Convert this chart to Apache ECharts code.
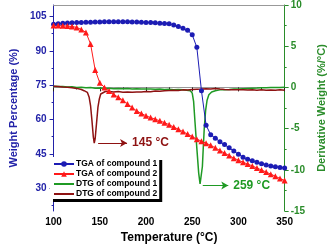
<!DOCTYPE html>
<html>
<head>
<meta charset="utf-8">
<script src="https://cdn.jsdelivr.net/npm/echarts@6/dist/echarts.min.js"></script>
<style>
html,body{margin:0;padding:0;background:#fff;}
#chart{width:335px;height:249px;}
</style>
</head>
<body>
<div id="chart"></div>
<script>
// ---- data ----
const tgaTemps = [100,105,110,115,120,125,130,135,140,145,150,155,160,165,170,175,180,185,190,195,200,205,210,215,220,225,230,235,240,245,250,255,260,265,270,275,280,285,290,295,300,305,310,315,320,325,330,335,340,345,350];
const tga1 = [101.6,101.8,102.0,102.1,102.2,102.3,102.4,102.5,102.5,102.6,102.6,102.7,102.7,102.7,102.7,102.7,102.7,102.6,102.6,102.5,102.4,102.3,102.2,102.0,101.9,101.8,101.3,100.6,99.8,99.0,97.0,91.5,72.5,57.5,53.3,51.8,50.3,49.0,47.6,46.2,44.8,43.5,42.6,42.0,41.3,40.6,40.1,39.7,39.3,39.0,38.8];
const tga2 = [101.0,101.0,100.9,100.8,100.6,100.2,99.3,98.0,93.0,81.6,76.0,74.0,72.4,70.9,69.7,68.4,66.8,65.2,63.7,62.6,61.6,60.8,60.1,59.4,58.6,57.7,56.7,55.7,54.7,53.6,52.5,51.4,50.5,49.6,48.7,47.6,46.4,45.3,44.2,43.1,42.2,41.3,40.5,39.7,38.8,37.9,37.0,36.1,35.2,34.2,33.3];

const dtg1Temps = [100,105,110,115,120,125,130,135,140,145,150,155,160,165,170,175,180,185,190,195,200,205,210,215,220,225,230,235,240,244,248,250,251.5,253,255,257,258.5,259.5,261,262,263,264.5,266,268,271,275,280,285,290,295,300,305,310,315,320,325,330,335,340,345,350];
const dtg1 = [0.15,0.1,0.12,0.05,0.08,0.0,0.02,-0.05,-0.02,-0.1,-0.08,-0.12,-0.1,-0.15,-0.12,-0.15,-0.13,-0.18,-0.15,-0.2,-0.18,-0.2,-0.22,-0.2,-0.25,-0.22,-0.28,-0.25,-0.3,-0.35,-0.4,-0.7,-1.7,-4.2,-7.4,-10.4,-11.7,-11.8,-9.6,-7.2,-5.0,-2.8,-1.6,-0.9,-0.55,-0.4,-0.3,-0.28,-0.25,-0.2,-0.18,-0.15,-0.12,-0.1,-0.08,-0.05,-0.04,-0.02,0.0,0.0,0.02];

const dtg2Temps = [100,105,110,115,120,125,130,133,136.5,138.5,140,141.5,143,144,145,146.5,148,149.5,151,153,156,160,165,170,175,180,185,190,195,200,205,210,215,220,225,230,235,240,245,250,255,260,265,270,275,280,285,290,295,300,305,310,315,320,325,330,335,340,345,350];
const dtg2 = [0.15,0.12,0.05,0.02,-0.05,-0.12,-0.25,-0.4,-0.6,-1.2,-2.2,-4.0,-6.0,-6.75,-6.2,-4.3,-2.4,-1.4,-0.8,-0.6,-0.5,-0.5,-0.55,-0.5,-0.58,-0.55,-0.6,-0.55,-0.55,-0.5,-0.52,-0.45,-0.48,-0.4,-0.38,-0.35,-0.38,-0.3,-0.32,-0.25,-0.22,-0.2,-0.15,-0.18,-0.12,-0.2,-0.25,-0.28,-0.3,-0.3,-0.28,-0.32,-0.3,-0.35,-0.3,-0.35,-0.32,-0.35,-0.3,-0.35];

const seriesNames = ['TGA of compound 1','TGA of compound 2','DTG of compound 1','DTG of compound 2'];
const leftTicks = [30,45,60,75,90,105];
const leftMinorTicks = [22.5,37.5,52.5,67.5,82.5,97.5];
const peak2 = {temp:145, value:-6.75, label:'145 °C'};
const peak1 = {temp:259, value:-11.9, label:'259 °C'};

const BLUE = '#1c1cb4', RED = '#ff1a1a', GREEN = '#1f9a24', DRED = '#8e1212';
const AXBLUE = '#2222a8', AXGREEN = '#2a8c2a';
const FONT = 'Liberation Sans, Arial, sans-serif';

// legend layout
const LEG = {left:50, top:157, padL:3, padR:2, padT:2, padB:0, iconW:20, iconH:7, rowH:10, font:8.5, shadow:3};

function pairs(xs, ys){ return xs.map((x,i)=>[x, ys[i]]); }

const chart = echarts.init(document.getElementById('chart'), null, {renderer:'canvas'});
chart.setOption({
  animation:false,
  backgroundColor:'#fff',
  textStyle:{fontFamily:FONT},
  grid:{left:41, right:40, top:5, bottom:35, containLabel:false},
  legend:{
    orient:'vertical', left:LEG.left, top:LEG.top, z:5,
    padding:[LEG.padT, LEG.padR, LEG.padB, LEG.padL], itemWidth:LEG.iconW, itemHeight:LEG.iconH, itemGap:0,
    backgroundColor:'#fff', borderWidth:0,
    textStyle:{fontSize:LEG.font, fontWeight:'bold', color:'#000', fontFamily:FONT, lineHeight:LEG.rowH, padding:[0,0,0,-3]},
    data:[
      {name:seriesNames[0]},
      {name:seriesNames[1]},
      {name:seriesNames[2], itemStyle:{opacity:0}},
      {name:seriesNames[3], itemStyle:{opacity:0}}
    ]
  },
  xAxis:[{
    type:'value', min:100, max:350, interval:50, position:'bottom',
    name:'Temperature (°C)', nameLocation:'middle', nameGap:21,
    nameTextStyle:{fontSize:12, fontWeight:'bold', color:'#000', fontFamily:FONT},
    axisLine:{show:true, lineStyle:{color:'#999', width:1}},
    axisTick:{show:true, length:4, lineStyle:{color:'#222'}},
    minorTick:{show:true, splitNumber:2, length:2, lineStyle:{color:'#222'}},
    axisLabel:{fontSize:10, fontWeight:'bold', color:'#000', margin:6, fontFamily:FONT},
    splitLine:{show:false}
  },{
    type:'value', min:100, max:350, position:'top',
    axisLine:{show:true, lineStyle:{color:'#999', width:1}},
    axisTick:{show:false}, axisLabel:{show:false}, splitLine:{show:false}
  }],
  yAxis:[{
    type:'value', min:20, max:110, position:'left',
    name:'Weight Percentage (%)', nameLocation:'middle', nameGap:26, nameRotate:90,
    nameTextStyle:{fontSize:11, fontWeight:'bold', color:AXBLUE, fontFamily:FONT},
    axisLine:{show:true, lineStyle:{color:AXBLUE, width:1}},
    axisTick:{show:true, length:4, customValues:leftTicks, lineStyle:{color:AXBLUE}},
    axisLabel:{fontSize:10, fontWeight:'bold', color:AXBLUE, margin:7, customValues:leftTicks, fontFamily:FONT},
    splitLine:{show:false}
  },{
    type:'value', min:-15, max:10, interval:5, position:'right',
    name:'Derivative Weight (%/°C)', nameLocation:'middle', nameGap:25, nameRotate:90,
    nameTextStyle:{fontSize:11, fontWeight:'bold', color:AXGREEN, fontFamily:FONT},
    axisLine:{show:true, lineStyle:{color:AXGREEN, width:1}},
    axisTick:{show:true, length:4, lineStyle:{color:AXGREEN}},
    minorTick:{show:true, splitNumber:2, length:2, lineStyle:{color:AXGREEN}},
    axisLabel:{fontSize:10, fontWeight:'bold', color:AXGREEN, margin:6, fontFamily:FONT},
    splitLine:{show:false}
  },{
    type:'value', min:20, max:110, position:'left', offset:0,
    axisLine:{show:false},
    axisTick:{show:true, length:2, customValues:leftMinorTicks, lineStyle:{color:AXBLUE}},
    axisLabel:{show:false}, splitLine:{show:false}
  }],
  series:[{
    name:seriesNames[0], type:'line', xAxisIndex:0, yAxisIndex:0,
    data:pairs(tgaTemps, tga1), symbol:'circle', symbolSize:5, showSymbol:true,
    itemStyle:{color:BLUE}, lineStyle:{color:BLUE, width:1}, z:2
  },{
    name:seriesNames[1], type:'line', xAxisIndex:0, yAxisIndex:0,
    data:pairs(tgaTemps, tga2), symbol:'triangle', symbolSize:6, showSymbol:true,
    itemStyle:{color:RED}, lineStyle:{color:RED, width:1}, z:2
  },{
    name:seriesNames[2], type:'line', xAxisIndex:0, yAxisIndex:1,
    data:pairs(dtg1Temps, dtg1), symbol:'none',
    itemStyle:{color:GREEN}, lineStyle:{color:GREEN, width:1.5}, z:1,
    markLine:{
      silent:true, symbol:['none','arrow'], symbolSize:[6,7],
      lineStyle:{color:GREEN, width:1, type:'solid'},
      label:{show:true, position:'end', distance:5, formatter:peak1.label, color:GREEN, fontSize:12, fontWeight:'bold', fontFamily:FONT},
      data:[[{coord:[peak1.temp+2.4, peak1.value]},{coord:[peak1.temp+30, peak1.value]}]]
    }
  },{
    name:seriesNames[3], type:'line', xAxisIndex:0, yAxisIndex:1,
    data:pairs(dtg2Temps, dtg2), symbol:'none',
    itemStyle:{color:DRED}, lineStyle:{color:DRED, width:1.5}, z:1,
    markLine:{
      silent:true, symbol:['none','arrow'], symbolSize:[6,7],
      lineStyle:{color:DRED, width:1, type:'solid'},
      label:{show:true, position:'end', distance:5, formatter:peak2.label, color:DRED, fontSize:12, fontWeight:'bold', fontFamily:FONT},
      data:[[{coord:[peak2.temp+3.2, peak2.value]},{coord:[peak2.temp+34.5, peak2.value]}]]
    }
  }]
});

// drop shadow for the legend box, sized from the legend actually rendered
(function(){
  let box = null;
  try {
    const lm = chart.getModel().getComponent('legend');
    const lv = chart.getViewOfComponentModel(lm);
    const r = lv.group.getBoundingRect();
    const t = lv.group.getComputedTransform ? null : null;
    box = {x: lv.group.x + r.x, y: lv.group.y + r.y, w: r.width, h: r.height};
  } catch(e) { box = null; }
  if (!box || !isFinite(box.w)) {
    const cv = document.createElement('canvas').getContext('2d');
    cv.font = 'bold ' + LEG.font + 'px ' + FONT;
    const tw = Math.max.apply(null, seriesNames.map(n => cv.measureText(n).width));
    box = {x:LEG.left, y:LEG.top, w:LEG.padL + LEG.iconW + 5 + tw + LEG.padR, h:LEG.padT + LEG.rowH*seriesNames.length + LEG.padB};
  }
  chart.setOption({
    graphic:[{
      type:'rect', z:3, silent:true,
      shape:{x:box.x + LEG.shadow, y:box.y + LEG.shadow, width:box.w, height:box.h},
      style:{fill:'#000'}
    }]
  });
})();
</script>
</body>
</html>
